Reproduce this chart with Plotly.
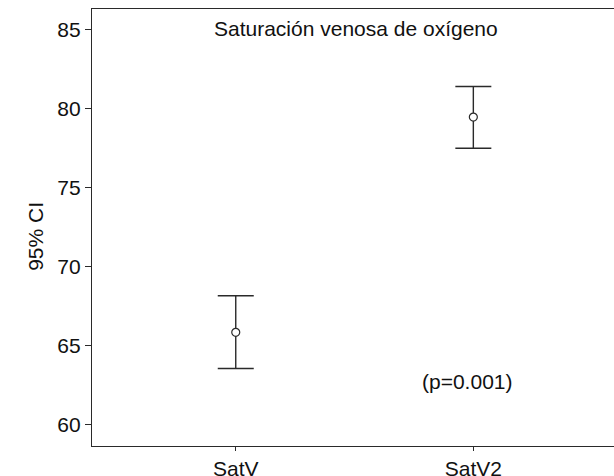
import plotly.graph_objects as go

categories = ["SatV", "SatV2"]
means = [65.84, 79.48]
upper = [68.16, 81.42]
lower = [63.55, 77.51]
y_ticks = [60, 65, 70, 75, 80, 85]
title_text = "Saturación venosa de oxígeno"
p_text = "(p=0.001)"
y_title = "95% CI"

ink = "#2a2a2a"
font_family = "Liberation Sans, Arial, Helvetica, sans-serif"

x_idx = list(range(len(categories)))
err_plus = [u - m for u, m in zip(upper, means)]
err_minus = [m - l for m, l in zip(means, lower)]

fig = go.Figure()
fig.add_trace(go.Scatter(
    x=x_idx, y=means, mode="markers",
    marker=dict(symbol="circle", size=8, color="white",
                line=dict(color=ink, width=1.2)),
    error_y=dict(type="data", symmetric=False, array=err_plus,
                 arrayminus=err_minus, color=ink, thickness=1.4, width=18),
    showlegend=False, hoverinfo="skip",
))

fig.add_annotation(x=0.506, y=85.1, xref="x", yref="y", text=title_text,
                   showarrow=False, font=dict(size=21, color="#111", family=font_family))
fig.add_annotation(x=0.972, y=62.7, xref="x", yref="y", text=p_text,
                   showarrow=False, font=dict(size=21, color="#111", family=font_family))
fig.add_annotation(x=-0.1347, y=0.479, xref="paper", yref="paper", text=y_title,
                   textangle=-90, showarrow=False,
                   font=dict(size=21, color="#111", family=font_family))

fig.update_layout(
    width=614, height=476,
    margin=dict(l=92, r=0, t=9, b=30),
    paper_bgcolor="white", plot_bgcolor="white",
    font=dict(family=font_family, size=21, color="#111"),
    xaxis=dict(
        range=[-0.605, 1.592], tickmode="array", tickvals=x_idx, ticktext=categories,
        showgrid=False, zeroline=False, showline=True, linecolor=ink, linewidth=1.4,
        mirror=True, ticks="outside", ticklen=4, tickcolor=ink, tickwidth=1.2,
        automargin=False, tickfont=dict(size=21),
    ),
    yaxis=dict(
        range=[58.64, 86.33], tickmode="array", tickvals=y_ticks,
        showgrid=False, zeroline=False, showline=True, linecolor=ink, linewidth=1.4,
        ticks="outside", ticklen=6, tickcolor=ink, tickwidth=1.2,
        automargin=False, tickfont=dict(size=21),
    ),
)

fig.write_html("out.html")
